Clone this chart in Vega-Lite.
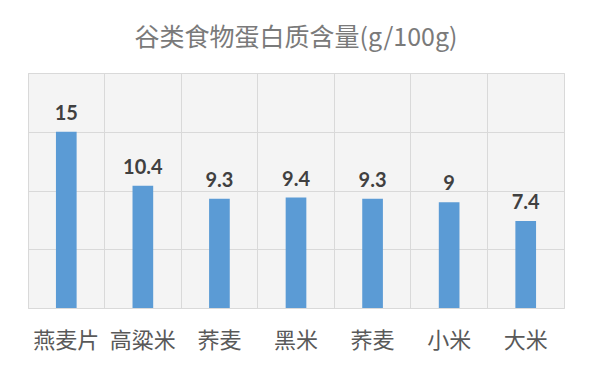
{
  "$schema": "https://vega.github.io/schema/vega-lite/v6.json",
  "autosize": "none",
  "width": 536,
  "height": 235,
  "padding": {"left": 28, "top": 73, "right": 36, "bottom": 65},
  "background": "#ffffff",
  "title": {
    "text": "谷类食物蛋白质含量(g/100g)",
    "anchor": "middle",
    "frame": "group",
    "font": "Noto Sans CJK SC",
    "fontSize": 25,
    "fontWeight": "normal",
    "color": "#7a7a7a",
    "offset": 22
  },
  "config": {
    "view": {"stroke": "#d9d9d9", "fill": "#f4f4f4"}
  },
  "data": {
    "values": [
      {"key": "1燕麦片", "name": "燕麦片", "protein": 15},
      {"key": "2高粱米", "name": "高粱米", "protein": 10.4},
      {"key": "3荞麦", "name": "荞麦", "protein": 9.3},
      {"key": "4黑米", "name": "黑米", "protein": 9.4},
      {"key": "5荞麦", "name": "荞麦", "protein": 9.3},
      {"key": "6小米", "name": "小米", "protein": 9},
      {"key": "7大米", "name": "大米", "protein": 7.4}
    ]
  },
  "encoding": {
    "x": {
      "field": "key",
      "type": "nominal",
      "sort": "ascending",
      "scale": {"paddingInner": 0, "paddingOuter": 0},
      "axis": {
        "title": null,
        "labelExpr": "substring(datum.label, 1)",
        "labelAngle": 0,
        "labelFont": "Noto Sans CJK SC",
        "labelFontSize": 22,
        "labelColor": "#595959",
        "labelPadding": 22,
        "ticks": false,
        "domain": false,
        "grid": true,
        "gridColor": "#d9d9d9",
        "bandPosition": 0
      }
    },
    "y": {
      "field": "protein",
      "type": "quantitative",
      "scale": {"domain": [0, 20], "nice": false},
      "axis": {
        "title": null,
        "labels": false,
        "ticks": false,
        "domain": false,
        "values": [0, 5, 10, 15, 20],
        "gridColor": "#d9d9d9"
      }
    }
  },
  "layer": [
    {
      "mark": {"type": "bar", "color": "#5b9bd5", "width": {"band": 0.27}}
    },
    {
      "mark": {
        "type": "text",
        "baseline": "alphabetic",
        "dy": -12,
        "font": "Lato",
        "fontWeight": "bold",
        "fontSize": 20,
        "color": "#404040"
      },
      "encoding": {"text": {"field": "protein", "type": "quantitative"}}
    }
  ]
}
